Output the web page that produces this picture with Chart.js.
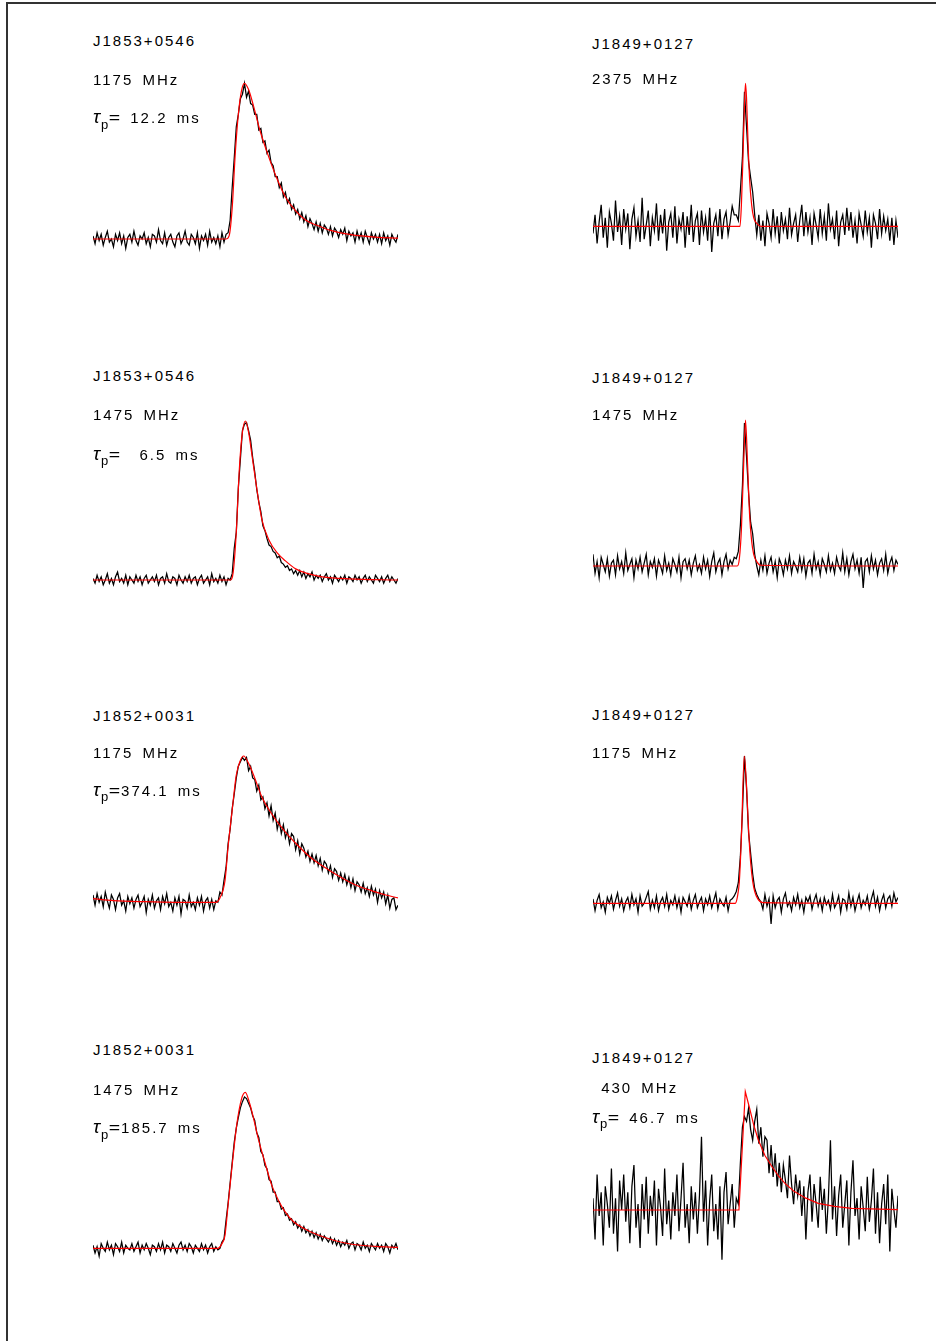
<!DOCTYPE html>
<html><head><meta charset="utf-8">
<script src="https://cdn.jsdelivr.net/npm/chart.js@4.4.1/dist/chart.umd.min.js"></script>
<style>
html,body{margin:0;padding:0;background:#fff;}
body{width:936px;height:1341px;position:relative;overflow:hidden;font-family:"Liberation Sans",Arial,sans-serif;}
.frame{position:absolute;left:6px;top:2px;width:940px;height:1350px;border-left:2px solid #333;border-top:2px solid #333;}
.lbl{position:absolute;font-size:15px;line-height:15px;letter-spacing:2px;word-spacing:3px;color:#000;white-space:pre;}
.lbl .tau{font-size:19px;font-style:italic;letter-spacing:0;line-height:0;}
.lbl sub{font-size:13px;position:relative;top:5.5px;vertical-align:baseline;line-height:0;letter-spacing:0;margin-left:1px;margin-right:1px;}
.lbl .eq{display:inline-block;transform:scaleX(1.3);margin:0 2px 0 1px;letter-spacing:0;}
canvas{position:absolute;}
</style></head><body>
<div class="frame"></div>
<script>
// ---- data: phase bins 0..149, normalised intensity (peak = 1) ----
const names = ['J1853+0546','J1849+0127','J1853+0546','J1849+0127','J1852+0031','J1849+0127','J1852+0031','J1849+0127'];
const freqs = ['1175 MHz','2375 MHz','1475 MHz','1475 MHz','1175 MHz','1175 MHz','1475 MHz',' 430 MHz'];
const taus  = [' 12.2', null, '  6.5', null, '374.1', null, '185.7', ' 46.7'];

const profA = [
.02,-.03,.04,-.01,.03,-.04,.01,.05,-.02,.00,-.05,.03,-.01,.04,-.03,.02,-.06,.01,.03,-.02,
.05,-.01,-.04,.02,.00,.04,-.03,.01,-.05,.03,.02,-.02,.06,-.01,-.03,.04,-.04,.01,.03,-.02,
-.05,.02,.04,-.03,.00,.05,-.02,-.04,.03,.01,-.03,.04,-.06,.02,-.01,.03,-.04,.05,-.02,.01,
-.03,.02,-.05,.04,-.02,.03,
.04,.12,.33,.52,.72,.80,.90,.93,1.0,.91,.95,.87,.86,.80,
.80,.70,.71,.62,.63,.55,.57,.49,.47,.40,
.40,.33,.36,.27,.30,.23,.26,.19,.22,.16,
.19,.13,.17,.11,.15,.08,.13,.10,.06,.11,
.05,.10,.04,.09,.07,.03,.08,.02,.07,.05,
.01,.06,.03,.07,-.01,.05,.02,.04,-.02,.05,
.00,.04,-.02,.05,.01,-.03,.04,.00,.03,-.02,
.03,-.03,.04,-.01,.02,-.04,.03,.00,-.02,.03];
const fitA = [[0,0],[65,0],[66.5,0.02],[68,0.2],[69.5,0.55],[71,0.8],[72.5,0.95],[74,1.0],[76,0.96],[78.5,0.85],[81.5,0.70],[85.5,0.54],[89.5,0.40],[94,0.27],[99,0.18],[104,0.12],[110,0.085],[116,0.055],[126,0.028],[138,0.012],[149,0.005]];

const profB = [
-.05,.08,-.12,.03,.15,-.08,.06,-.15,.10,.02,
-.10,.18,-.04,.07,-.13,.12,-.02,.09,-.16,.05,
.13,-.07,.04,-.11,.20,-.09,.01,.11,-.14,.06,
-.03,.16,-.10,.08,-.05,.12,-.17,.03,.09,-.08,
.14,-.12,.05,-.02,.10,-.15,.07,-.06,.15,-.11,
.04,.09,-.13,.11,-.04,.06,-.10,.13,-.18,.02,
.08,-.07,.12,-.09,.05,.10,-.06,.03,.14,.08,
.08,.04,.25,.48,.94,.70,.45,.34,.24,.08,-.06,.08,
-.10,.04,-.14,.09,.02,-.08,.12,-.05,.07,-.12,
.10,-.03,.05,-.09,.13,-.06,.02,.08,-.11,.04,
.15,-.07,.10,-.04,.06,-.13,.09,.01,-.08,.12,
-.05,.07,-.10,.16,-.02,.05,-.09,.11,-.14,.03,
.08,-.06,.13,-.03,.10,-.08,.04,-.12,.09,.01,
-.07,.11,-.04,.06,-.15,.08,.02,-.09,.12,-.05,
.07,-.03,.05,-.10,.06,-.13,.04,-.08];
const fitB = [[0,0],[71.8,0],[72.5,0.15],[73.3,0.5],[74,0.85],[74.5,1.0],[75,0.9],[75.7,0.6],[76.5,0.33],[77.5,0.15],[78.5,0.06],[80,0.02],[82,0],[149,0]];

const profC = [
.01,-.02,.03,-.01,.02,-.03,.00,.04,-.02,.01,
-.03,.02,.05,-.01,.01,-.02,.03,-.03,.02,.00,
-.02,.03,-.01,.02,-.03,.01,.03,-.02,.00,.02,
-.01,.03,-.03,.01,.02,-.02,.04,-.01,-.02,.02,
.01,-.03,.03,.00,-.02,.02,-.01,.03,-.02,.01,
.02,-.03,.01,.03,-.02,.00,.02,-.03,.04,-.01,
.01,-.02,.03,-.01,.02,-.03,.01,
.00,.04,.20,.30,.58,.76,.94,.98,.99,.94,.88,.77,.68,
.57,.49,.43,.34,.31,.26,.22,.21,.18,.17,
.14,.15,.11,.10,.08,.09,.06,.07,.04,.06,
.03,.06,.02,.05,.01,.04,.02,.05,.00,.03,
.01,.03,-.01,.02,.04,.00,.02,-.02,.03,.01,
-.01,.02,.00,.03,-.02,.02,.01,-.01,.03,.00,
.02,-.02,.01,.03,-.01,.02,.00,-.02,.03,.01,
-.01,.02,-.02,.01,.03,-.01,.02,.00,-.02,.01];
const fitC = [[0,0],[67,0],[68.5,0.05],[70,0.3],[71.5,0.7],[73,0.93],[74.5,1.0],[76,0.93],[77.5,0.8],[79.5,0.62],[82.5,0.38],[86,0.25],[90,0.17],[94,0.12],[99,0.07],[105,0.04],[112,0.02],[125,0.007],[149,0]];

const profD = [
.08,-.05,.03,-.08,.06,.01,-.04,.05,-.07,.02,
.04,-.06,.07,-.02,.03,-.05,.09,-.03,.01,.05,
-.08,.04,-.02,.06,-.04,.02,.08,-.06,.03,-.01,
.05,-.07,.04,.00,-.05,.07,-.03,.02,-.06,.05,
.01,-.04,.06,-.08,.03,.05,-.02,.04,-.06,.02,
.07,-.03,.01,-.05,.06,-.02,.04,-.07,.03,.09,
-.04,.02,.05,-.06,.03,.08,-.02,.04,.01,.06,.05,
.10,.28,.55,.98,.75,.50,.30,.22,.08,.00,
-.06,.04,-.03,.07,-.05,.02,.06,-.04,.03,-.08,
.05,.01,-.06,.04,-.02,.07,-.05,.03,.00,-.04,
.06,-.03,.05,-.07,.02,.04,-.05,.08,-.02,.03,
-.06,.05,.01,-.04,.07,-.03,.02,-.05,.06,.00,
-.03,.09,-.04,.05,-.06,.03,.08,-.02,.04,-.05,
.06,-.15,.03,.05,-.04,.07,-.02,.04,-.06,.02,
.05,-.03,.08,-.05,.02,.06,-.03,.04,.01];
const fitD = [[0,0],[70.5,0],[71.5,0.05],[72.5,0.25],[73.5,0.65],[74.5,1.0],[75.5,0.7],[76.5,0.35],[77.5,0.17],[78.5,0.08],[80,0.03],[82,0.005],[149,0]];

const profE = [
.05,-.02,.06,.00,.04,-.03,.07,.01,-.04,.05,
.02,-.05,.03,.06,-.02,.01,-.06,.04,-.01,.03,
-.04,.02,.05,-.03,.00,.04,-.07,.02,-.02,.05,
-.04,.01,.03,-.05,.04,-.01,.06,-.03,.00,-.06,
.03,-.02,.04,-.08,.02,.01,-.04,.05,-.03,.00,
-.05,.03,-.02,.04,-.06,.01,.03,-.04,.02,-.05,.01,
.00,.07,.05,.15,.24,.40,.50,.64,.74,.85,.93,.96,.99,.97,
.99,.90,.93,.85,.84,.76,.80,.70,.72,.64,.68,.59,.66,.56,.61,
.50,.56,.47,.53,.44,.49,.40,.47,.45,.36,.42,.33,.40,.37,.31,
.35,.28,.33,.27,.32,.25,.30,.22,.28,.26,.20,.25,.17,.23,.21,
.15,.20,.14,.19,.12,.17,.10,.16,.08,.14,.12,.07,.13,.06,.10,
.04,.11,.05,.09,.00,.08,.03,.07,-.01,.05,-.04,.02,.03,-.05,-.02];
const fitE = [[0,0.025],[10,0.012],[25,0.004],[40,0],[60,0],[62,0.03],[64.5,0.15],[66,0.38],[68,0.63],[70,0.87],[72,0.97],[73.6,1.0],[76,0.95],[79,0.85],[82.5,0.72],[88,0.59],[94,0.48],[100,0.39],[106,0.31],[112,0.25],[120,0.18],[128,0.12],[136,0.08],[143,0.05],[149,0.03]];

const profF = [
.03,-.05,.02,.06,-.03,.01,-.06,.04,.00,.05,
-.04,.02,.07,-.02,.03,-.05,.01,.04,-.03,.06,
-.01,.03,-.06,.05,-.02,.00,.04,.08,-.04,.02,
-.03,.05,-.05,.01,.04,-.02,.06,-.04,.02,-.01,
.05,-.03,.03,-.06,.04,.01,-.02,.05,-.04,.02,
.06,-.03,.01,.04,-.05,.03,-.01,.05,-.03,.02,
.07,-.04,.03,.00,-.02,.04,-.05,.02,.03,.05,
.08,.14,.32,.62,1.0,.78,.48,.34,.20,.10,.06,.03,.01,
-.04,.06,-.02,.03,-.14,.05,-.03,.02,.04,-.06,
.03,.07,-.02,.01,-.05,.04,-.01,.06,-.03,.02,
-.06,.04,.01,.05,-.04,.02,.06,-.02,.03,-.05,
.04,-.01,.02,-.04,.06,-.03,.00,.05,-.06,.03,
.02,-.04,.07,-.02,.04,-.05,.01,.06,-.03,.02,
-.01,.05,-.04,.03,.08,-.02,.04,-.05,.02,.06,
-.03,.03,.05,-.02,.07,.01,.04];
const fitF = [[0,0],[69.5,0],[70.5,0.04],[71.5,0.15],[72.5,0.45],[73.9,1.0],[75,0.8],[76,0.5],[77,0.28],[78,0.15],[79,0.08],[80.5,0.03],[83,0.005],[149,0]];

const profG = [
.02,-.03,.01,-.05,.03,.00,-.02,.04,-.01,.02,
-.04,.03,.01,-.02,.04,-.03,.02,.00,-.01,.03,
-.02,.01,.04,-.03,.02,-.01,.03,.00,-.04,.02,
.01,-.02,.03,-.01,.04,-.03,.02,.01,-.02,.03,
.00,-.03,.02,.04,-.01,.02,-.02,.03,.01,-.03,
.02,.00,-.02,.03,-.01,.02,-.03,.01,.03,-.02,.01,-.01,
.00,.04,.06,.18,.29,.42,.55,.68,.77,.84,.90,.94,.97,.96,.93,.90,.85,.82,
.74,.71,.62,.60,.53,.51,.44,.43,.36,.36,.30,.30,.25,.26,.21,.22,.18,.19,.15,.17,
.13,.15,.11,.14,.10,.12,.08,.11,.07,.10,.06,.09,.05,.08,.06,.04,.07,.03,.06,.02,
.05,.01,.04,.02,.05,.00,.03,.04,-.01,.03,
.02,-.01,.04,.00,.02,-.02,.03,.01,-.01,.03,
.00,.02,-.02,.03,.01,-.03,.02,.00,.03,-.01];
const fitG = [[0,0],[61,0],[63,0.03],[64.5,0.085],[66,0.28],[67.8,0.51],[70.2,0.79],[72.6,0.96],[74.4,1.0],[76.5,0.93],[78.5,0.83],[80.7,0.705],[84,0.55],[87.3,0.405],[90.5,0.31],[93.8,0.235],[98,0.17],[104,0.12],[110,0.085],[118,0.05],[126.4,0.026],[138,0.012],[149,0.006]];

const profH = [
.10,-.25,.30,-.05,.15,-.30,.20,.05,-.15,.35,
-.20,.10,-.35,.25,.00,.30,-.10,.15,-.28,.20,
.38,-.15,.05,-.32,.22,-.08,.28,-.20,.12,-.05,
.25,-.30,.18,.02,-.22,.35,-.12,.08,-.25,.15,
-.05,.30,-.18,.10,.40,-.15,.05,-.28,.20,-.08,
.15,-.20,.12,.62,-.10,.25,-.30,.08,.30,-.18,
.05,-.25,.20,-.42,.15,.32,-.12,.05,.22,-.15,.10,
.05,.40,.70,.79,.75,.86,.68,.59,.75,.85,.56,.70,.45,.62,.59,
.31,.55,.28,.48,.20,.40,.15,.38,.25,.10,.46,.22,.05,.30,.12,
.25,-.05,.20,-.25,.15,.30,-.10,.22,.05,-.15,.28,.00,.18,-.20,.10,
.59,-.08,.20,-.22,.12,.30,-.15,.05,.25,-.30,
.15,.42,-.05,.10,-.25,.20,.02,-.18,.28,-.10,
.08,.35,-.20,.15,-.28,.05,.22,-.12,.30,-.35,
.18,.00,-.15,.12];
const fitH = [[0,0],[71.3,0],[74.4,1.0],[76.5,0.86],[78.5,0.72],[80.8,0.59],[84,0.46],[87.3,0.37],[90.5,0.29],[93.8,0.225],[98,0.16],[104,0.1],[110,0.056],[118,0.03],[126.4,0.014],[149,0.003]];

// ---- layout (page pixels) ----
const layout = [
 {prof:profA, fit:fitA, x0:93,  base:239,    peak:83.3,   ty:[40,78.8,117.5],      smooth:true},
 {prof:profB, fit:fitB, x0:593, base:226.3,  peak:83.3,   ty:[43,78],              smooth:true},
 {prof:profC, fit:fitC, x0:93,  base:580,    peak:421,    ty:[375,414.5,454],      smooth:true},
 {prof:profD, fit:fitD, x0:593, base:566,    peak:420,    ty:[377.5,414],          smooth:true},
 {prof:profE, fit:fitE, x0:93,  base:902.3,  peak:756,    ty:[715,752,790],        smooth:true},
 {prof:profF, fit:fitF, x0:593, base:903.3,  peak:756,    ty:[714,752],            smooth:true},
 {prof:profG, fit:fitG, x0:93,  base:1248.3, peak:1092.3, ty:[1049.3,1088.8,1127.3],smooth:true},
 {prof:profH, fit:fitH, x0:593, base:1210,   peak:1091.7, ty:[1057.5,1087.7,1117], smooth:false}
];

function addLabel(x, yc, html){
  const d = document.createElement('div');
  d.className = 'lbl';
  d.style.left = x + 'px';
  d.style.top = (yc - 7.3) + 'px';
  d.innerHTML = html;
  document.body.appendChild(d);
}

layout.forEach((p, k) => {
  const W = 305;
  const unit = p.base - p.peak;
  const top = Math.round(p.peak - 0.2 * unit);
  const h = Math.round(1.95 * unit);
  const c = document.createElement('canvas');
  c.width = W; c.height = h;
  c.style.left = p.x0 + 'px'; c.style.top = top + 'px';
  c.style.width = W + 'px'; c.style.height = h + 'px';
  document.body.appendChild(c);
  const ymax = (p.base - top) / unit;
  const ymin = (p.base - top - h) / unit;
  new Chart(c, {
    type: 'line',
    data: { datasets: [
      { data: p.fit.map(([x, y]) => ({x, y})), borderColor: '#ff0000', borderWidth: 1.2,
        pointRadius: 0, tension: 0, cubicInterpolationMode: p.smooth ? 'monotone' : 'default', order: 0, clip: false },
      { data: p.prof.map((y, i) => ({x: i, y})), borderColor: '#000000', borderWidth: 1.25,
        pointRadius: 0, tension: 0, order: 1, clip: false }
    ]},
    options: {
      responsive: false, animation: false, devicePixelRatio: 1, events: [],
      layout: { padding: 0 },
      plugins: { legend: { display: false }, tooltip: { enabled: false } },
      scales: {
        x: { type: 'linear', min: 0, max: 149, display: false },
        y: { min: ymin, max: ymax, display: false }
      }
    }
  });
  const tx = p.x0 === 93 ? 93 : 592;
  addLabel(tx, p.ty[0], names[k]);
  addLabel(tx, p.ty[1], freqs[k]);
  if (taus[k] !== null) addLabel(tx, p.ty[2], '<span class="tau">τ</span><sub>p</sub><span class="eq">=</span>' + taus[k] + ' ms');
});
</script>
</body></html>
